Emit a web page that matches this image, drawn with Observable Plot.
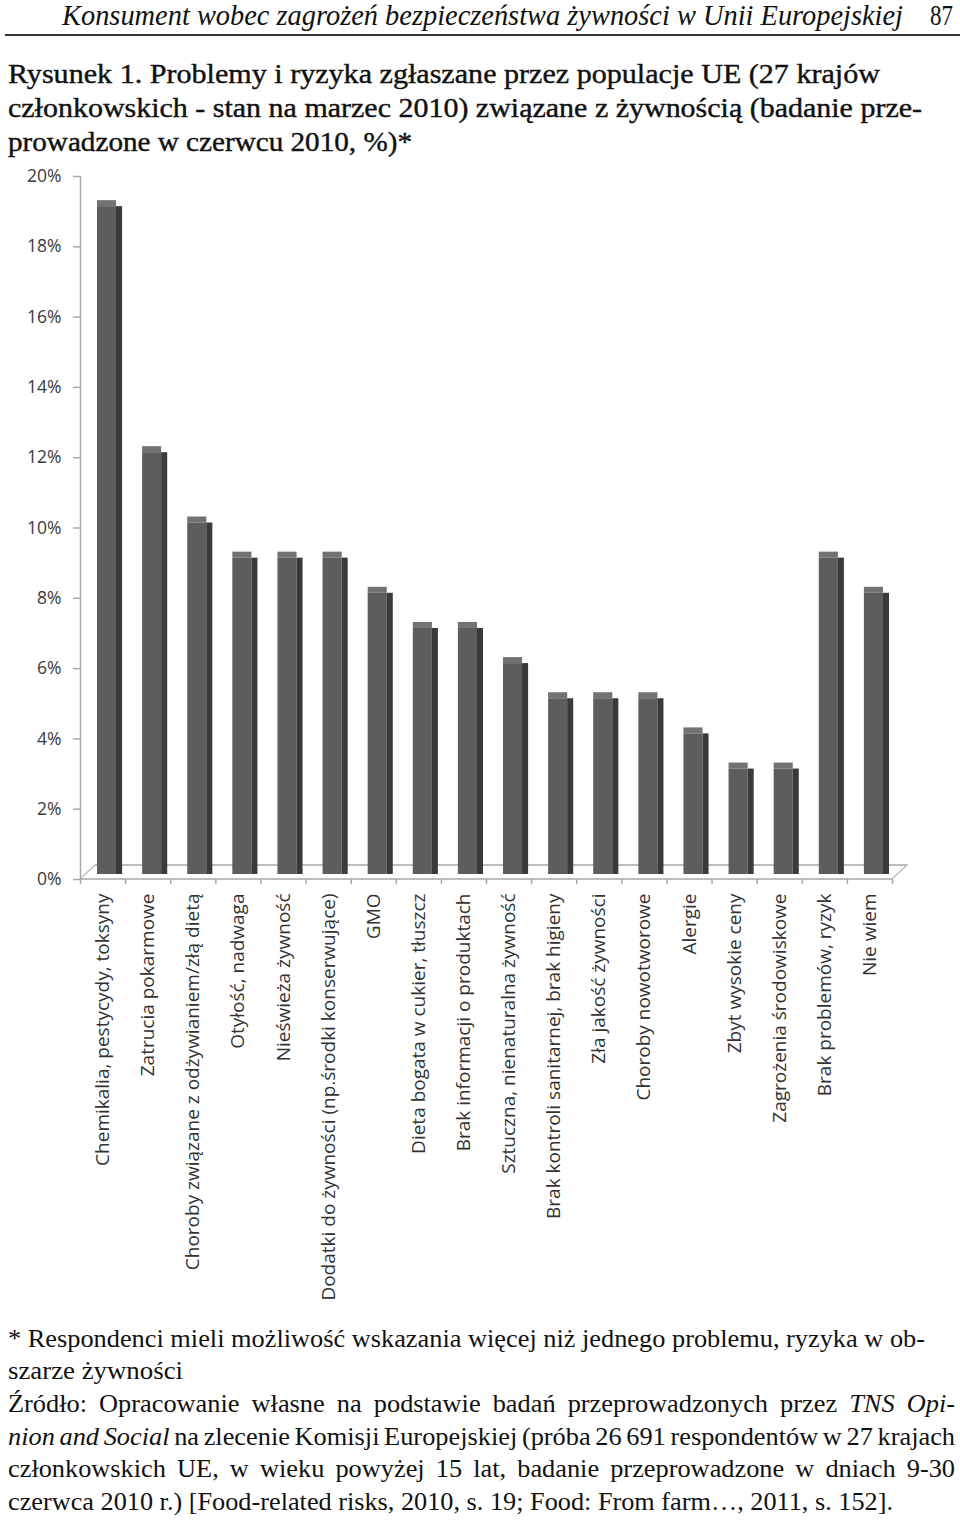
<!DOCTYPE html>
<html><head><meta charset="utf-8">
<script src="https://cdn.jsdelivr.net/npm/d3@7"></script>
<script src="https://cdn.jsdelivr.net/npm/@observablehq/plot@0.6"></script>
<style>
html,body{margin:0;padding:0;background:#fff}
body{width:960px;height:1520px;position:relative;overflow:hidden}
.t{position:absolute;white-space:nowrap;line-height:normal;transform-origin:0 0;font-family:"Liberation Serif","Times New Roman",serif;color:#111}
#rule{position:absolute;left:5px;top:34px;width:955px;height:2px;background:#333}
#chart{position:absolute;left:0;top:160px}
</style></head><body>
<div id="rule"></div>
<div id="chart"></div>
<script>
// ---- data ----
const categories = [
  "Chemikalia, pestycydy, toksyny",
  "Zatrucia pokarmowe",
  "Choroby związane z odżywianiem/złą dietą",
  "Otyłość, nadwaga",
  "Nieświeża żywność",
  "Dodatki do żywności (np.środki konserwujące)",
  "GMO",
  "Dieta bogata w cukier, tłuszcz",
  "Brak informacji o produktach",
  "Sztuczna, nienaturalna żywność",
  "Brak kontroli sanitarnej, brak higieny",
  "Zła jakość żywności",
  "Choroby nowotworowe",
  "Alergie",
  "Zbyt wysokie ceny",
  "Zagrożenia środowiskowe",
  "Brak problemów, ryzyk",
  "Nie wiem"
];
const values = [19, 12, 10, 9, 9, 9, 8, 7, 7, 6, 5, 5, 5, 4, 3, 3, 9, 8];
const yTicks = [0, 2, 4, 6, 8, 10, 12, 14, 16, 18, 20];
const yTickFormat = d => d + "%";

const headerText = "Konsument wobec zagrożeń bezpieczeństwa żywności w Unii Europejskiej";
const pageNumber = "87";
const titleLines = [
  "Rysunek 1. Problemy i ryzyka zgłaszane przez populacje UE (27 krajów",
  "członkowskich - stan na marzec 2010) związane z żywnością (badanie prze-",
  "prowadzone w czerwcu 2010, %)*"
];
const noteLines = [
  "* Respondenci mieli możliwość wskazania więcej niż jednego problemu, ryzyka w ob-",
  "szarze żywności",
  "Źródło: Opracowanie własne na podstawie badań przeprowadzonych przez <i>TNS Opi-</i>",
  "<i>nion and Social</i> na zlecenie Komisji Europejskiej (próba 26 691 respondentów w 27 krajach",
  "członkowskich UE, w wieku powyżej 15 lat, badanie przeprowadzone w dniach 9-30",
  "czerwca 2010 r.) [Food-related risks, 2010, s. 19; Food: From farm…, 2011, s. 152]."
];

// ---- text layout ----
function addText(html, x, base, size, target, opts = {}) {
  const el = document.createElement("div");
  el.className = "t";
  el.innerHTML = html;
  el.style.fontSize = size + "px";
  el.style.left = x + "px";
  el.style.top = (base - 0.891 * size) + "px";
  if (opts.italic) el.style.fontStyle = "italic";
  if (opts.stroke) el.style.webkitTextStroke = opts.stroke + "px #111";
  document.body.appendChild(el);
  const nat = el.getBoundingClientRect().width;
  if (opts.justify) {
    const spaces = (el.textContent.match(/ /g) || []).length;
    const s = opts.scale || 1;
    const ws = (target / s - nat) / spaces;
    el.style.wordSpacing = ws + "px";
    el.style.transform = `scaleX(${s})`;
  } else if (target) {
    el.style.transform = `scaleX(${target / nat})`;
  }
  return target ? target / nat : 1;
}
addText(headerText, 62, 25, 30, 841, {italic: true});
addText(pageNumber, 930, 25, 29, 23);
const tb = [83, 117, 151], tw = [872, 914, 404];
titleLines.forEach((l, i) => addText(l, 8, tb[i], 27, tw[i], {stroke: 0.4}));
const nb = [1347, 1379, 1412, 1445, 1477, 1510];
const s1 = addText(noteLines[0], 8, nb[0], 25, 917);
addText(noteLines[1], 8, nb[1], 25, 175);
addText(noteLines[2], 8, nb[2], 25, 947, {justify: true, scale: s1});
addText(noteLines[3], 8, nb[3], 25, 947, {justify: true, scale: s1});
addText(noteLines[4], 8, nb[4], 25, 947, {justify: true, scale: s1});
addText(noteLines[5], 8, nb[5], 25, 885);

// ---- chart ----
const rows = categories.map((c, i) => ({i, c, v: values[i]}));
const N = categories.length;
const axisGray = "#a8a8a8";
const chart = Plot.plot({
  width: 960, height: 1150,
  marginLeft: 80, marginRight: 68, marginTop: 16, marginBottom: 431,
  style: {fontFamily: "'Open Sans', 'Noto Sans', sans-serif", fontSize: "17px", color: "#3a3a3a", background: "transparent", overflow: "visible"},
  x: {domain: [0, N], axis: null},
  y: {domain: [0, 20], axis: null},
  marks: [
    Plot.frame({insetTop: 689, stroke: axisGray, strokeWidth: 1.5, ariaLabel: "floor"}),
    Plot.ruleX([0], {stroke: axisGray, strokeWidth: 1.5}),
    Plot.axisY({ticks: yTicks, tickFormat: yTickFormat, tickSize: 7, tickPadding: 12, stroke: axisGray, fill: "#3a3a3a", strokeWidth: 1.5, fontSize: 17.5, label: null}),
    Plot.axisX({ticks: d3.range(N + 1), tickFormat: () => "", tickSize: 5, stroke: axisGray, strokeWidth: 1.5, label: null}),
    Plot.rect(rows, {x1: "i", x2: d => d.i + 1, y1: 0, y2: "v", insetLeft: 36, insetRight: 3, dy: -5, fill: "#3a3a3a", ariaLabel: "side"}),
    Plot.rect(rows, {x1: "i", x2: d => d.i + 1, y1: "v", y2: "v", insetLeft: 17, insetRight: 9, insetTop: -6, dy: -5, fill: "#727272", ariaLabel: "top"}),
    Plot.rect(rows, {x1: "i", x2: d => d.i + 1, y1: 0, y2: "v", insetLeft: 17, insetRight: 9, dy: -5, fill: "#5d5d5d", ariaLabel: "front"}),
    Plot.text(rows, {x: d => d.i + 0.5, y: 0, text: "c", rotate: -90, textAnchor: "end", dy: 14, fill: "#333", fontSize: 19})
  ]
});
document.getElementById("chart").appendChild(chart);

// 3D skew of side/top faces and floor
const sel = d3.select(chart);
sel.selectAll('[aria-label="top"] rect').each(function() {
  const r = d3.select(this);
  const yb = +r.attr("y") + +r.attr("height");
  r.attr("transform", `translate(0,${yb}) skewX(-45) translate(0,${-yb})`);
});
sel.selectAll('[aria-label="side"] rect').each(function() {
  const r = d3.select(this);
  const xl = +r.attr("x");
  r.attr("transform", `translate(${xl},0) skewY(-45) translate(${-xl},0)`);
});
{
  const f = chart.querySelector('[aria-label="floor"]');
  const r = f && (f.tagName.toLowerCase() === "rect" ? f : f.querySelector("rect"));
  if (r) {
    const yb = +r.getAttribute("y") + +r.getAttribute("height");
    r.setAttribute("transform", `translate(0,${yb}) skewX(-47) translate(0,${-yb})`);
  }
}
</script>
</body></html>
